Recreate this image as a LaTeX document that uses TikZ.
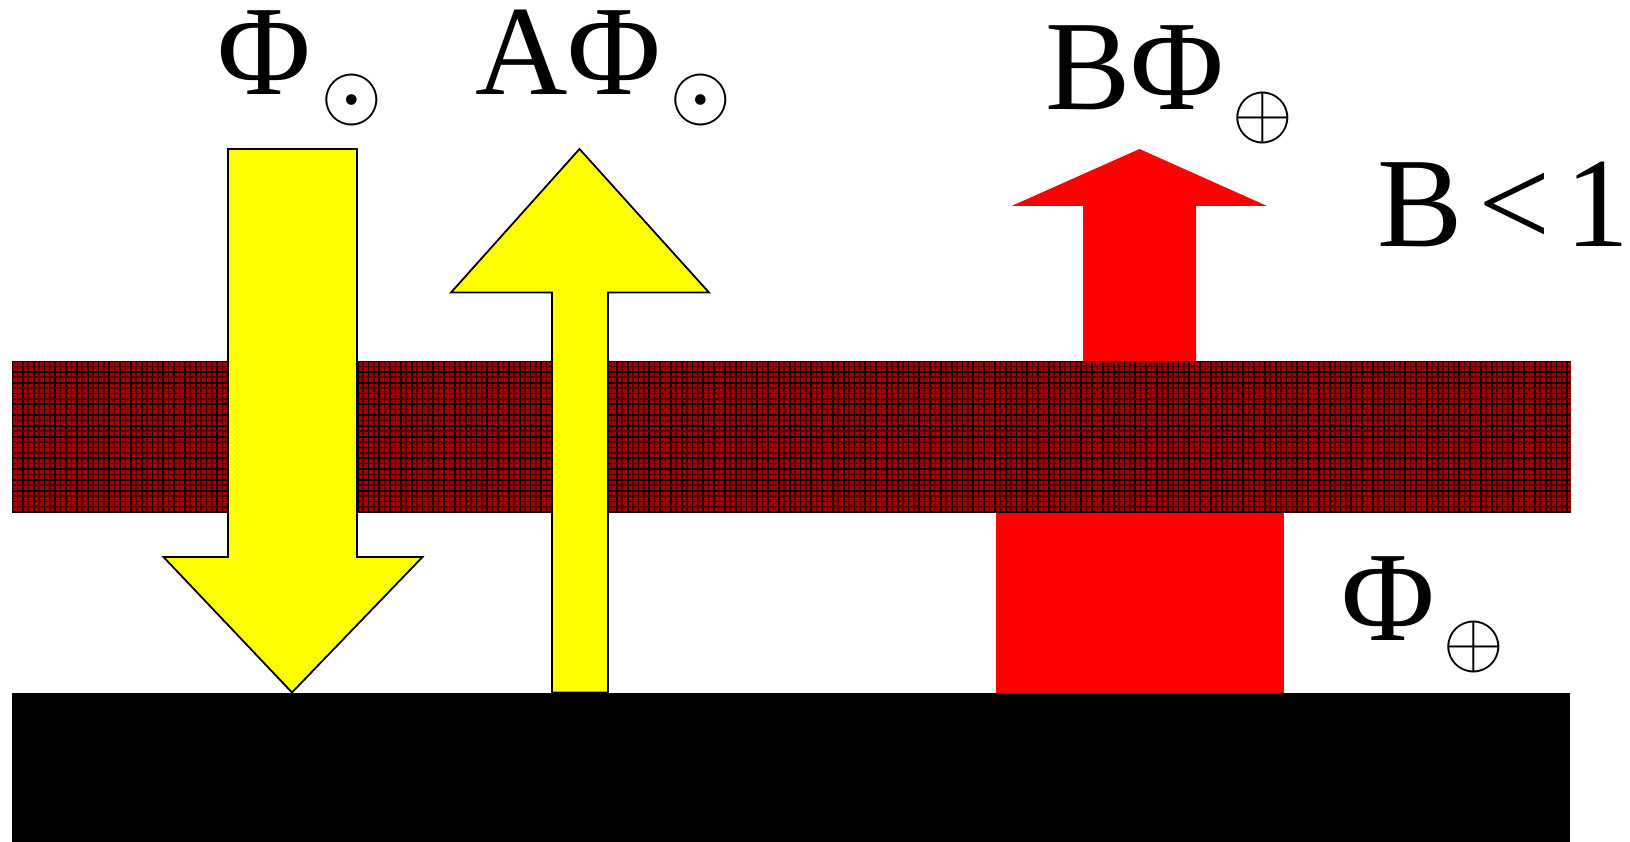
\documentclass[tikz,border=0pt]{standalone}
\usepackage{graphicx}
\usepackage{fontspec}
\setmainfont{Liberation Serif}
\definecolor{bandred}{RGB}{165,0,0}
\definecolor{banddark}{RGB}{80,0,0}
\definecolor{arrowred}{RGB}{255,0,0}
\definecolor{arrowyellow}{RGB}{255,255,0}
\newcommand{\bigsym}[1]{\scalebox{7.8}{$#1$}}
\tikzset{
  lbl/.style={inner sep=0pt, font=\fontsize{128}{130}\selectfont},
  sublbl/.style={inner sep=0pt, anchor=center, font=\normalsize},
  yarrow/.style={fill=arrowyellow, draw=black, line width=1.8pt, line join=miter},
  rarrow/.style={fill=arrowred, draw=none},
}
\begin{document}
\begin{tikzpicture}[x=1pt,y=-1pt]
\useasboundingbox (0,0) rectangle (1630,842);
% red flux arrows
\fill[rarrow] (1083,363) -- (1083,206) -- (1011.5,206) -- (1139.5,149) -- (1267,206) -- (1196,206) -- (1196,363) -- cycle;
\fill[rarrow] (996,510) rectangle (1283.5,694);
% textured band
\fill[bandred] (12,361) rectangle (1570.5,512.5);
\begin{scope}
\clip (12,361) rectangle (1570.5,512.5);
\foreach \i in {0,...,145} {
  \draw[banddark, line width=1.6pt] ({17.4+10.8*\i},361) -- ({17.4+10.8*\i},512.5);
  \draw[black, line width=1.8pt] ({12+10.8*\i},361) -- ({12+10.8*\i},512.5);
}
\foreach \j in {0,...,14} {
  \draw[banddark, line width=1.6pt] (12,{366.4+10.8*\j}) -- (1570.5,{366.4+10.8*\j});
  \draw[black, line width=1.8pt] (12,{361+10.8*\j}) -- (1570.5,{361+10.8*\j});
}
\end{scope}
% ground
\fill[black] (12,693) rectangle (1570,842);
% yellow arrows
\draw[yarrow] (228,149) -- (357,149) -- (357,557) -- (422.5,557) -- (292,692.5) -- (163.5,557) -- (228,557) -- cycle;
\draw[yarrow] (552,692.5) -- (552,292.5) -- (451,292.5) -- (579.5,149) -- (709,292.5) -- (608,292.5) -- (608,692.5) -- cycle;
% labels
\node[lbl, anchor=base] (phiin) at (264.3,95) {Φ};
\node[sublbl] (phiinsub) at (351.8,100.5) {\bigsym{\odot}};
\node[lbl, anchor=base] (aphi) at (568,95) {AΦ};
\node[sublbl] (aphisub) at (701,100.5) {\bigsym{\odot}};
\node[lbl, anchor=base] (bphi) at (1134.7,110) {BΦ};
\node[sublbl] (bphisub) at (1262.5,118) {\bigsym{\oplus}};
\node[lbl, anchor=base east] (bless) at (1630,246.7) {B\kern16pt<\kern15pt1};
\node[lbl, anchor=base] (phiout) at (1388,640) {Φ};
\node[sublbl] (phioutsub) at (1473.5,647.2) {\bigsym{\oplus}};
\end{tikzpicture}
\end{document}
